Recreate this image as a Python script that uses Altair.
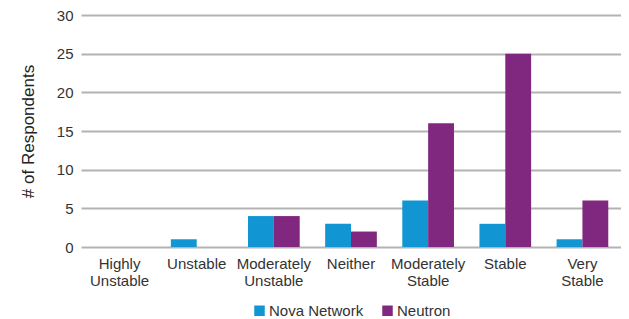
import altair as alt
import pandas as pd

categories = ["Highly Unstable", "Unstable", "Moderately Unstable", "Neither",
              "Moderately Stable", "Stable", "Very Stable"]
nova = [0, 1, 4, 3, 6, 3, 1]
neutron = [0, 0, 4, 2, 16, 25, 6]
series = ["Nova Network", "Neutron"]
colors = ["#1195D3", "#80287F"]

rows = []
for c, a, b in zip(categories, nova, neutron):
    rows.append({"cat": c, "series": series[0], "val": a})
    rows.append({"cat": c, "series": series[1], "val": b})
df = pd.DataFrame(rows)

font = "Liberation Sans"

chart = alt.Chart(df).mark_bar().encode(
    x=alt.X("cat:N", sort=categories,
            scale=alt.Scale(paddingInner=0.33, paddingOuter=0.165),
            axis=alt.Axis(title=None, labelAngle=0, domain=False, ticks=False,
                          labelExpr="split(datum.label, ' ')",
                          labelFont=font, labelFontSize=15, labelColor="#333",
                          labelPadding=9, labelLineHeight=17)),
    xOffset=alt.XOffset("series:N", sort=series),
    y=alt.Y("val:Q", scale=alt.Scale(domain=[0, 30], nice=False),
            axis=alt.Axis(title="# of Respondents", values=[0, 5, 10, 15, 20, 25, 30],
                          domain=False, ticks=False, grid=True,
                          gridColor="#b3b3b3", gridWidth=2,
                          labelFont=font, labelFontSize=15, labelColor="#333",
                          labelPadding=8,
                          titleFont=font, titleFontSize=17, titleColor="#222",
                          titleFontWeight="normal", titlePadding=19)),
    color=alt.Color("series:N", sort=series,
                    scale=alt.Scale(domain=series, range=colors),
                    legend=alt.Legend(title=None, orient="none", direction="horizontal",
                                      legendX=171, legendY=288,
                                      symbolType="square", symbolSize=110,
                                      symbolStrokeWidth=0, symbolOpacity=1,
                                      labelFont=font, labelFontSize=15,
                                      labelColor="#333", columnPadding=16,
                                      labelOffset=2)),
).properties(
    width=540, height=232,
    autosize=alt.AutoSizeParams(type="none"),
    padding={"left": 73, "top": 7, "right": 0, "bottom": 72},
).configure_view(stroke=None)

chart.save("out.html", embed_options={"renderer": "svg", "actions": False})
